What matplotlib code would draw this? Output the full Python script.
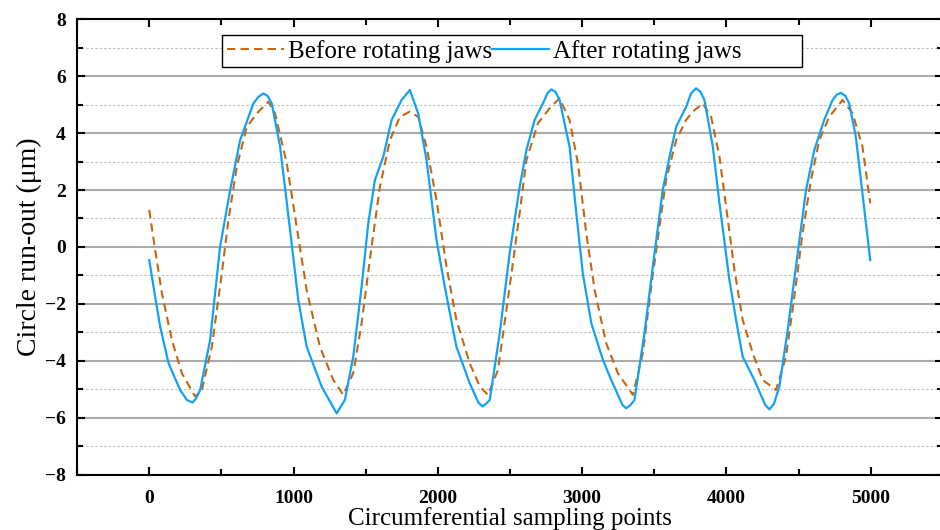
import numpy as np
import matplotlib.pyplot as plt
from matplotlib.ticker import MultipleLocator

plt.rcParams['font.family'] = ['Liberation Serif', 'DejaVu Serif']

# Before rotating jaws
before_x = [0, 41, 88, 157, 226, 318, 365, 434, 503, 549, 607, 676, 757, 826, 872,
            953, 1022, 1091, 1183, 1276, 1345, 1414, 1472, 1541, 1599, 1668, 1737,
            1806, 1864, 1922, 1991, 2060, 2129, 2221, 2291, 2348, 2417, 2498, 2567,
            2614, 2694, 2775, 2844, 2913, 2971, 3029, 3087, 3167, 3248, 3352, 3421,
            3479, 3536, 3582, 3652, 3721, 3767, 3836, 3894, 3952, 4010, 4056, 4113,
            4183, 4252, 4344, 4413, 4471, 4528, 4586, 4644, 4713, 4805, 4875, 4943,
            4997]
before_y = [1.30, -0.10, -1.63, -3.26, -4.43, -5.25, -5.02, -3.50, -0.93, 0.95, 2.82,
            4.22, 4.75, 5.10, 4.69, 2.94, 0.71, -1.51, -3.50, -4.67, -5.19, -4.43,
            -2.68, 0.01, 2.12, 3.75, 4.57, 4.75, 4.57, 3.52, 1.65, -0.69, -2.56,
            -4.08, -4.90, -5.19, -4.32, -1.39, 1.18, 3.05, 4.34, 4.87, 5.22, 4.46,
            2.94, 0.48, -1.51, -3.38, -4.43, -5.19, -3.73, -1.39, 0.71, 2.35, 3.75,
            4.46, 4.75, 5.04, 4.57, 3.17, 0.95, -0.81, -2.56, -3.73, -4.67, -5.02,
            -3.85, -1.74, 0.48, 2.35, 3.75, 4.57, 5.16, 4.69, 3.52, 1.53]

# After rotating jaws
after_x = [0, 41, 76, 134, 214, 261, 300, 325, 353, 422, 491, 561, 630, 722, 757,
           791, 821, 849, 907, 976, 1033, 1091, 1195, 1299, 1356, 1414, 1472, 1518,
           1564, 1622, 1680, 1749, 1806, 1864, 1922, 1991, 2048, 2129, 2221, 2280,
           2309, 2335, 2360, 2429, 2498, 2567, 2614, 2671, 2729, 2760, 2787, 2815,
           2844, 2913, 2960, 3005, 3064, 3144, 3202, 3280, 3306, 3335, 3363, 3432,
           3490, 3559, 3606, 3652, 3721, 3755, 3790, 3820, 3848, 3906, 3952, 4021,
           4067, 4113, 4194, 4270, 4298, 4330, 4367, 4425, 4482, 4552, 4609, 4678,
           4736, 4765, 4794, 4825, 4851, 4897, 4943, 4997]
after_y = [-0.46, -1.74, -2.80, -4.08, -5.02, -5.37, -5.46, -5.31, -5.02, -3.26, 0.01,
           2.00, 3.75, 5.04, 5.27, 5.39, 5.30, 5.04, 3.52, 0.60, -1.86, -3.50,
           -4.90, -5.84, -5.37, -3.85, -1.39, 0.83, 2.35, 3.17, 4.46, 5.16, 5.51,
           4.69, 3.05, 0.25, -1.39, -3.50, -4.78, -5.45, -5.60, -5.50, -5.37, -3.03,
           -0.22, 2.10, 3.40, 4.46, 5.04, 5.40, 5.53, 5.45, 5.16, 3.52, 1.18, -0.93,
           -2.68, -3.96, -4.67, -5.55, -5.66, -5.55, -5.37, -3.03, -0.69, 2.00,
           3.17, 4.22, 4.92, 5.39, 5.57, 5.45, 5.16, 3.52, 1.53, -1.16, -2.56, -3.85,
           -4.67, -5.55, -5.70, -5.50, -4.90, -2.91, -0.69, 2.00, 3.40, 4.46, 5.16,
           5.35, 5.41, 5.30, 5.04, 3.87, 1.88, -0.46]

fig = plt.figure(figsize=(9.4, 5.3), dpi=100)
ax = fig.add_axes([0.082, 0.104, 0.921, 0.860])

ax.plot(before_x, before_y, color='#C8650F', linewidth=1.5, dashes=(4, 2.5),
        label='Before rotating jaws')
ax.plot(after_x, after_y, color='#12A2F5', linewidth=1.6,
        label='After rotating jaws' + ' ' * 9)

ax.set_xlim(-500, 5500)
ax.set_ylim(-8, 8)
ax.xaxis.set_major_locator(MultipleLocator(1000))
ax.xaxis.set_minor_locator(MultipleLocator(500))
ax.yaxis.set_major_locator(MultipleLocator(2))
ax.yaxis.set_minor_locator(MultipleLocator(1))

ax.grid(True, which='major', axis='y', color='#aaaaaa', linewidth=1.5)
ax.grid(True, which='minor', axis='y', color='#bbbbbb', linewidth=0.8, linestyle=(0, (2, 2)))
ax.set_axisbelow(True)

ax.tick_params(which='both', direction='in', top=True, right=True, width=1.5,
               labelsize=14)
ax.tick_params(axis='x', pad=11)
ax.tick_params(axis='y', pad=8)
ax.tick_params(which='major', length=6)
ax.tick_params(which='minor', length=4)
for lab in ax.get_xticklabels() + ax.get_yticklabels():
    lab.set_fontweight('bold')
for s in ax.spines.values():
    s.set_linewidth(1.5)

ax.set_xlabel('Circumferential sampling points', fontsize=18, labelpad=0)
ax.set_ylabel('Circle run-out (μm)', fontsize=20, labelpad=2)

leg = ax.legend(loc='upper left', bbox_to_anchor=(0.1674, 0.965), ncol=2,
                fontsize=18, frameon=True, fancybox=False, framealpha=1,
                edgecolor='black', handlelength=2.3, handletextpad=0.15,
                columnspacing=0.0, borderpad=0.18, borderaxespad=0)
leg.get_frame().set_linewidth(1.0)

fig.savefig('out.png', dpi=100)
